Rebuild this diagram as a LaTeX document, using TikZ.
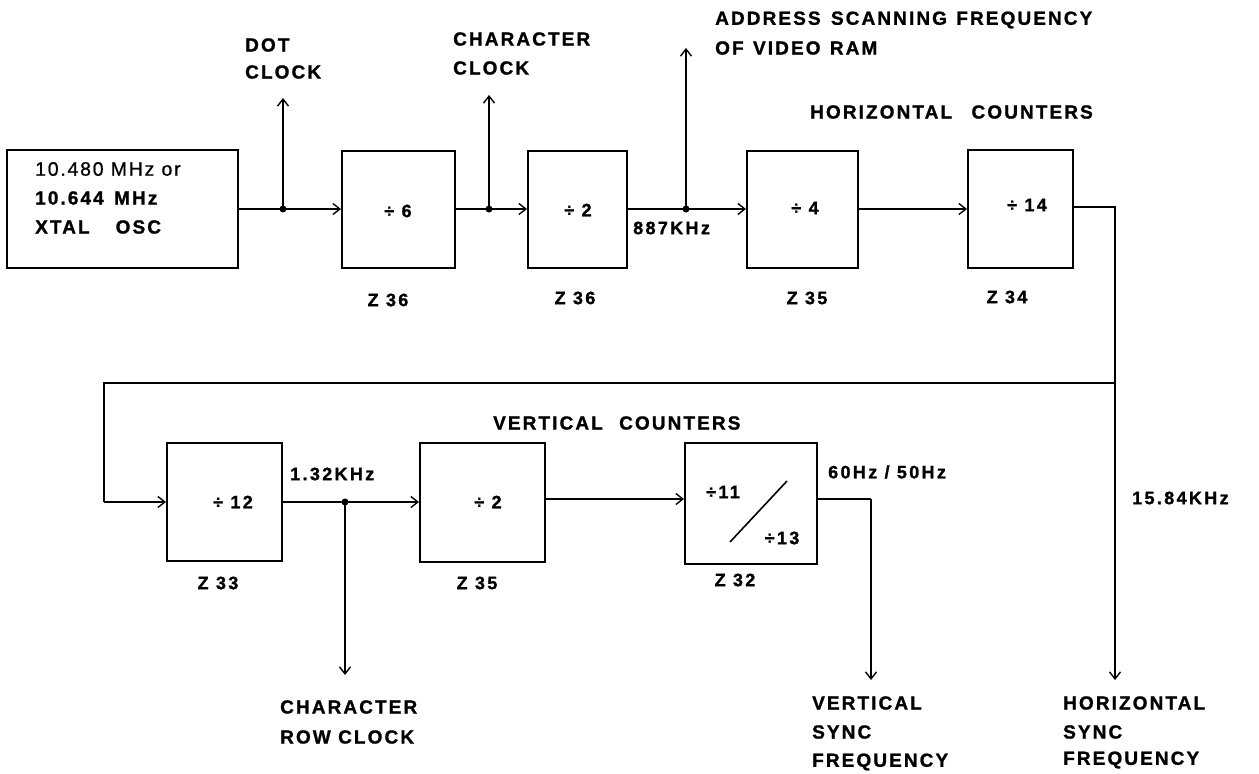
\documentclass[tikz,border=0pt]{standalone}
\usepackage{fontspec}
\setmainfont{Liberation Sans}
\newfontfamily\lab{Liberation Sans Bold}[LetterSpace=11, FakeBold=1.2]
\newfontfamily\labs{Liberation Sans Bold}[LetterSpace=13, FakeBold=1.2]
\newfontfamily\labr{Liberation Sans}[LetterSpace=9, FakeBold=0.8]
\usetikzlibrary{arrows.meta}
\begin{document}
\begin{tikzpicture}[x=1pt,y=-1pt,
  blk/.style={draw, line width=2pt, inner sep=0pt},
  txt/.style={anchor=west, inner sep=0pt, font=\lab\fontsize{19}{19}\selectfont},
  stxt/.style={anchor=center, inner sep=0pt, font=\labs\fontsize{18}{18}\selectfont},
  otxt/.style={anchor=west, inner sep=0pt, font=\labr\fontsize{19.5}{19.5}\selectfont},
  wire/.style={line width=1.8pt},
  arr/.style={-{Straight Barb[length=7pt,width=11pt,line width=1.4pt]}},
  tap/.style={line width=1.2pt},
  dotn/.style={circle, fill, inner sep=0pt, minimum size=7pt}]
\useasboundingbox (0,0) rectangle (1259,774);

% top row boxes
\node[blk, minimum width=231pt, minimum height=118pt] (osc) at (122.5,209) {};
\node[blk, minimum width=113pt, minimum height=117pt] (d6) at (398.5,209) {};
\node[blk, minimum width=99pt, minimum height=117pt] (d2a) at (577.5,209) {};
\node[blk, minimum width=111pt, minimum height=117pt] (d4) at (802.5,209) {};
\node[blk, minimum width=105pt, minimum height=118pt] (d14) at (1020.5,209) {};
% bottom row boxes
\node[blk, minimum width=115pt, minimum height=118pt] (d12) at (224.5,502) {};
\node[blk, minimum width=125pt, minimum height=119pt] (d2b) at (482.5,502) {};
\node[blk, minimum width=132pt, minimum height=121pt] (d11) at (751,503) {};

% box texts
\node[otxt] (o1) at (35,169) {10.480 MHz or};
\node[txt] (o2) at (35,198) {10.644\hspace{3pt} MHz};
\node[txt] (o3) at (35,227) {XTAL\hspace{26pt}OSC};
\node[stxt] (t6) at (398,211) {÷ 6};
\node[stxt] (t2a) at (578,210) {÷ 2};
\node[stxt] (t4) at (805,208) {÷ 4};
\node[stxt] (t14) at (1027,205) {÷ 14};
\node[stxt] (t12) at (233,502) {÷ 12};
\node[stxt] (t2b) at (488,502) {÷ 2};
\node[stxt] (t11) at (723,492) {÷11};
\node[stxt] (t13) at (782,538) {÷13};
\draw[line width=1.6pt] (730,542) -- (787,481);

% chip labels
\node[stxt] (z36a) at (388,300) {Z 36};
\node[stxt] (z36b) at (575,298) {Z 36};
\node[stxt] (z35a) at (807,298) {Z 35};
\node[stxt] (z34) at (1007,297) {Z 34};
\node[stxt] (z33) at (218,583) {Z 33};
\node[stxt] (z35b) at (477,583) {Z 35};
\node[stxt] (z32) at (735,580) {Z 32};

% junctions
\coordinate (j1) at (283,209);
\coordinate (j2) at (489,209);
\coordinate (j3) at (686,209);
\coordinate (j4) at (345,502);
\node[dotn] (dj1) at (j1) {};
\node[dotn] (dj2) at (j2) {};
\node[dotn] (dj3) at (j3) {};
\node[dotn] (dj4) at (j4) {};

% top row wires
\draw[wire,arr] (osc.east) -- (d6.west);
\draw[wire,arr] (d6.east) -- (d2a.west);
\draw[wire,arr] (d2a.east) -- (d4.west);
\draw[wire,arr] (d4.east) -- (d14.west);

% taps up
\coordinate (u1) at (283,98);
\coordinate (u2) at (489,95);
\coordinate (u3) at (686,48);
\draw[tap,arr] (j1) -- (u1);
\draw[tap,arr] (j2) -- (u2);
\draw[tap,arr] (j3) -- (u3);

% feedback
\coordinate (fa) at (1115,207);
\coordinate (fb) at (1115,383);
\coordinate (fc) at (104,383);
\coordinate (fd) at (104,502);
\coordinate (hs) at (1115,680);
\draw[wire] (d14.east |- fa) -- (fa) -- (fb) -- (fc) -- (fd);
\draw[wire,arr] (fd) -- (d12.west);
\draw[tap,arr] (fb) -- (hs);

% bottom row wires
\draw[wire,arr] (d12.east) -- (d2b.west);
\draw[tap,arr] (d2b.east |- 0,499) -- (d11.west |- 0,499);
\coordinate (va) at (871,499);
\coordinate (vs) at (871,680);
\draw[wire] (d11.east |- va) -- (va);
\draw[tap,arr] (va) -- (vs);
\coordinate (cr) at (345,675);
\draw[tap,arr] (j4) -- (cr);

% labels
\node[txt] (l1) at (245,45) {DOT};
\node[txt] (l2) at (245,72) {CLOCK};
\node[txt] (l3) at (453,39) {CHARACTER};
\node[txt] (l4) at (453,68) {CLOCK};
\node[txt] (l5) at (715,20) {ADDRESS\hspace{3pt} SCANNING\hspace{2pt} FREQUENCY};
\node[txt] (l6) at (715,48) {OF\hspace{2pt} VIDEO\hspace{2pt} RAM};
\node[txt] (l7) at (810,112) {HORIZONTAL\hspace{12pt} COUNTERS};
\node[stxt, anchor=west] (l8) at (633,228) {887KHz};
\node[txt] (l9) at (493,423) {VERTICAL\hspace{9pt} COUNTERS};
\node[stxt, anchor=west] (l10) at (290,474) {1.32KHz};
\node[stxt, anchor=west] (l11) at (828,472) {60Hz / 50Hz};
\node[stxt, anchor=west] (l12) at (1132,498) {15.84KHz};
\node[txt] (l13) at (280,707) {CHARACTER};
\node[txt] (l14) at (280,737) {ROW CLOCK};
\node[txt] (l15) at (812,703) {VERTICAL};
\node[txt] (l16) at (812,732) {SYNC};
\node[txt] (l17) at (812,762) {FREQUENCY};
\node[txt] (l18) at (1063,703) {HORIZONTAL};
\node[txt] (l19) at (1063,732) {SYNC};
\node[txt] (l20) at (1063,760) {FREQUENCY};
\end{tikzpicture}
\end{document}
